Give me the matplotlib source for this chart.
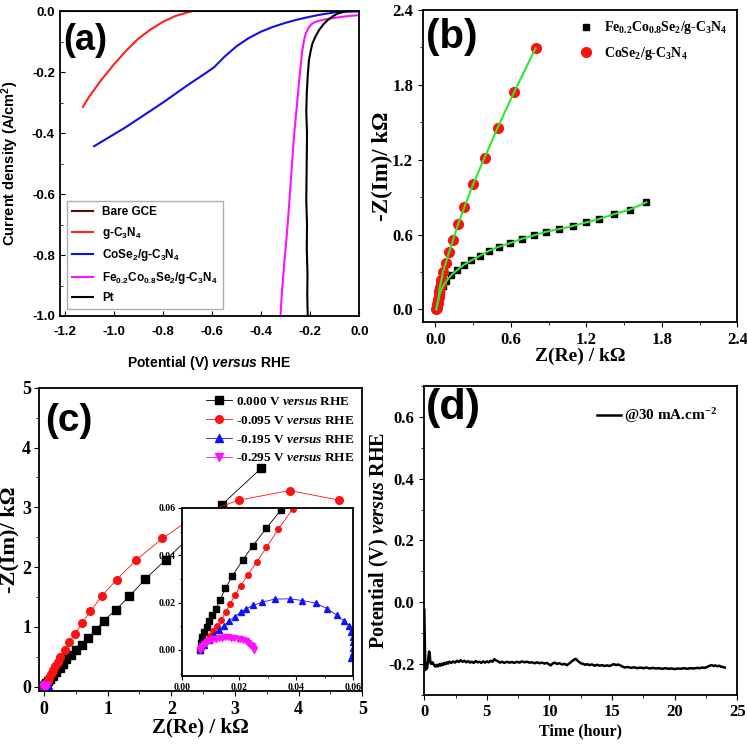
import matplotlib
matplotlib.use("Agg")
import matplotlib.pyplot as plt
from matplotlib.ticker import MultipleLocator, FormatStrFormatter

plt.rcParams['font.family'] = 'Liberation Serif'
plt.rcParams['font.weight'] = 'bold'
plt.rcParams['axes.labelweight'] = 'bold'
plt.rcParams['axes.unicode_minus'] = False
plt.rcParams['mathtext.default'] = 'regular'
plt.rcParams['mathtext.fontset'] = 'custom'
plt.rcParams['mathtext.it'] = 'Liberation Serif:italic:bold'
plt.rcParams['mathtext.sf'] = 'Liberation Sans:italic:bold'

# ---- (a) polarization curves ----
gce_v = [-1.22, 0.0]
gce_j = [0.0, 0.0]

gcn_v = [-1.126, -1.10, -1.05, -1.00, -0.95, -0.90, -0.85, -0.80, -0.75, -0.70, -0.68]
gcn_j = [-0.314, -0.28, -0.225, -0.175, -0.13, -0.09, -0.06, -0.035, -0.016, -0.004, 0.0]

cose_v = [-1.08, -0.95, -0.80, -0.70, -0.62, -0.59, -0.55, -0.50, -0.45, -0.40, -0.35,
          -0.30, -0.25, -0.20, -0.15, -0.10, -0.05, 0.0]
cose_j = [-0.443, -0.380, -0.300, -0.243, -0.200, -0.183, -0.150, -0.115, -0.088, -0.067,
          -0.051, -0.038, -0.027, -0.018, -0.010, -0.004, -0.001, 0.0]

feco_v = [-0.321, -0.315, -0.305, -0.296, -0.288, -0.281, -0.274, -0.267, -0.259, -0.252,
          -0.246, -0.239, -0.232, -0.225, -0.218, -0.205, -0.191, -0.175, -0.157, -0.12,
          -0.075, -0.035, 0.0]
feco_j = [-1.00, -0.92, -0.82, -0.74, -0.66, -0.58, -0.50, -0.42, -0.35, -0.29, -0.237,
          -0.18, -0.128, -0.095, -0.073, -0.052, -0.040, -0.034, -0.030, -0.024, -0.019,
          -0.015, -0.013]

pt_v = [-0.210, -0.212, -0.211, -0.214, -0.213, -0.216, -0.215, -0.214, -0.213, -0.216,
        -0.214, -0.210, -0.205, -0.198, -0.191, -0.178, -0.164, -0.147, -0.130, -0.110,
        -0.089, -0.068, -0.048, 0.0]
pt_j = [-1.00, -0.93, -0.86, -0.78, -0.70, -0.62, -0.55, -0.48, -0.40, -0.33, -0.27,
        -0.21, -0.16, -0.13, -0.106, -0.082, -0.062, -0.044, -0.030, -0.018, -0.008,
        -0.003, 0.0, 0.0]

# ---- (b) Nyquist plots ----
fe_re = [0.008, 0.013, 0.021, 0.029, 0.043, 0.061, 0.088, 0.125, 0.173, 0.226, 0.287, 0.353,
         0.423, 0.502, 0.593, 0.688, 0.784, 0.880, 0.986, 1.092, 1.196, 1.302, 1.422, 1.544, 1.677]
fe_im = [0.0, 0.035, 0.067, 0.107, 0.147, 0.188, 0.228, 0.274, 0.316, 0.357, 0.394, 0.429,
         0.469, 0.501, 0.531, 0.566, 0.593, 0.622, 0.644, 0.668, 0.697, 0.724, 0.764, 0.799, 0.858]
co_re = [0.008, 0.010, 0.013, 0.016, 0.019, 0.022, 0.024, 0.027, 0.029, 0.032, 0.035, 0.041,
         0.048, 0.061, 0.082, 0.109, 0.141, 0.181, 0.231, 0.300, 0.391, 0.494, 0.627, 0.797]
co_im = [0.0, 0.012, 0.025, 0.040, 0.055, 0.068, 0.080, 0.100, 0.126, 0.150, 0.180, 0.205,
         0.233, 0.303, 0.370, 0.459, 0.558, 0.684, 0.821, 1.003, 1.215, 1.453, 1.743, 2.092]

# ---- (c) Nyquist at different potentials ----
v000_re = [0.0061, 0.0064, 0.0070, 0.0077, 0.0085, 0.0095, 0.0103, 0.0118, 0.0133, 0.0151,
           0.0175, 0.0212, 0.0247, 0.0295, 0.0347, 0.06, 0.10, 0.14, 0.19, 0.25, 0.30, 0.35,
           0.42, 0.50, 0.59, 0.69, 0.81, 0.94, 1.13, 1.34, 1.59, 1.91, 2.32, 2.79, 3.41]
v000_im = [0.0, 0.0031, 0.0056, 0.0078, 0.0099, 0.0123, 0.0148, 0.0174, 0.0213, 0.0260,
           0.0311, 0.0380, 0.0440, 0.0514, 0.0593, 0.09, 0.13, 0.18, 0.25, 0.31, 0.38, 0.46,
           0.53, 0.61, 0.70, 0.81, 0.95, 1.10, 1.29, 1.51, 1.80, 2.12, 2.53, 3.04, 3.65]
v095_re = [0.0061, 0.0067, 0.0076, 0.0085, 0.0096, 0.0109, 0.0123, 0.0137, 0.0152, 0.0167,
           0.0185, 0.0205, 0.0230, 0.0261, 0.0295, 0.0337, 0.0388, 0.06, 0.08, 0.11, 0.14,
           0.18, 0.22, 0.26, 0.33, 0.40, 0.49, 0.60, 0.73, 0.91, 1.14, 1.45, 1.86, 2.38,
           3.06, 3.86, 4.64]
v095_im = [0.0, 0.0010, 0.0025, 0.0042, 0.0059, 0.0080, 0.0103, 0.0127, 0.0160, 0.0193,
           0.0233, 0.0272, 0.0318, 0.0371, 0.0433, 0.0511, 0.0597, 0.10, 0.15, 0.21, 0.28,
           0.35, 0.42, 0.50, 0.61, 0.75, 0.88, 1.07, 1.26, 1.52, 1.79, 2.12, 2.48, 2.86,
           3.12, 3.28, 3.12]
v195_re = [0.0061, 0.0076, 0.0093, 0.0111, 0.0128, 0.0146, 0.0163, 0.0184, 0.0205, 0.0225,
           0.0248, 0.0281, 0.0324, 0.0378, 0.0421, 0.0468, 0.0509, 0.0541, 0.0567, 0.0585,
           0.0593, 0.0598, 0.0600, 0.0600, 0.0598, 0.0593]
v195_im = [0.0, 0.0021, 0.0042, 0.0064, 0.0085, 0.0103, 0.0123, 0.0141, 0.0160, 0.0174,
           0.0188, 0.0202, 0.0215, 0.0216, 0.0209, 0.0198, 0.0174, 0.0148, 0.0123, 0.0103,
           0.0078, 0.0056, 0.0035, 0.0007, -0.0014, -0.0033]
v295_re = [0.0061, 0.0064, 0.0069, 0.0075, 0.0082, 0.0090, 0.0099, 0.0108, 0.0118, 0.0128,
           0.0139, 0.0150, 0.0161, 0.0172, 0.0183, 0.0194, 0.0204, 0.0214, 0.0223, 0.0231,
           0.0238, 0.0244, 0.0249, 0.0252]
v295_im = [0.0, 0.0010, 0.0018, 0.0025, 0.0031, 0.0036, 0.0041, 0.0045, 0.0048, 0.0050,
           0.0052, 0.0053, 0.0053, 0.0052, 0.0051, 0.0048, 0.0045, 0.0041, 0.0036, 0.0030,
           0.0023, 0.0015, 0.0007, 0.0001]

# ---- (d) chronopotentiometry ----
time_h = [0.0, 0.04, 0.08, 0.12, 0.16, 0.22, 0.3, 0.38, 0.43, 0.48, 0.55, 0.65, 0.8, 0.9, 1.0,
          1.1, 1.2, 1.3, 1.4, 1.5, 1.6, 1.7, 1.8, 1.9, 2.0, 2.15, 2.3, 2.45, 2.6, 2.75, 2.9,
          3.05, 3.2, 3.35, 3.5, 3.65, 3.8, 3.95, 4.1, 4.25, 4.4, 4.55, 4.7, 4.85, 5.0, 5.15,
          5.3, 5.45, 5.6, 5.75, 5.9, 6.05, 6.2, 6.4, 6.6, 6.8, 7.0, 7.2, 7.4, 7.6, 7.8, 8.0,
          8.2, 8.4, 8.6, 8.8, 9.0, 9.2, 9.4, 9.6, 9.8, 9.95, 10.1, 10.25, 10.4, 10.6, 10.8,
          11.0, 11.2, 11.4, 11.6, 11.75, 11.9, 12.0, 12.1, 12.25, 12.4, 12.55, 12.7, 12.85,
          13.0, 13.2, 13.4, 13.6, 13.8, 14.0, 14.2, 14.4, 14.6, 14.8, 15.0, 15.15, 15.3, 15.5,
          15.7, 15.85, 16.0, 16.25, 16.5, 16.75, 17.0, 17.25, 17.5, 17.75, 18.0, 18.25, 18.5,
          18.75, 19.0, 19.25, 19.5, 19.75, 20.0, 20.25, 20.5, 20.75, 21.0, 21.25, 21.5, 21.75,
          22.0, 22.2, 22.4, 22.6, 22.8, 22.95, 23.1, 23.25, 23.4, 23.55, 23.7, 23.85, 24.0]
potential_v = [-0.025, -0.12, -0.22, -0.20, -0.205, -0.215, -0.19, -0.16, -0.165, -0.195,
               -0.20, -0.195, -0.205, -0.209, -0.203, -0.208, -0.201, -0.206, -0.199, -0.204,
               -0.197, -0.201, -0.195, -0.199, -0.193, -0.197, -0.192, -0.196, -0.190, -0.194,
               -0.188, -0.193, -0.190, -0.195, -0.191, -0.196, -0.193, -0.197, -0.191, -0.195,
               -0.193, -0.197, -0.192, -0.196, -0.192, -0.195, -0.190, -0.193, -0.185, -0.189,
               -0.192, -0.196, -0.193, -0.197, -0.193, -0.196, -0.194, -0.197, -0.193, -0.196,
               -0.192, -0.195, -0.193, -0.196, -0.195, -0.198, -0.195, -0.198, -0.196, -0.199,
               -0.197, -0.201, -0.205, -0.199, -0.196, -0.200, -0.198, -0.202, -0.200, -0.204,
               -0.198, -0.193, -0.188, -0.185, -0.184, -0.190, -0.195, -0.199, -0.200, -0.203,
               -0.201, -0.204, -0.202, -0.206, -0.203, -0.206, -0.204, -0.207, -0.205, -0.207,
               -0.203, -0.201, -0.204, -0.202, -0.206, -0.209, -0.212, -0.210, -0.213, -0.211,
               -0.214, -0.212, -0.214, -0.212, -0.215, -0.213, -0.215, -0.214, -0.216, -0.214,
               -0.216, -0.215, -0.217, -0.215, -0.216, -0.214, -0.216, -0.214, -0.215, -0.213,
               -0.214, -0.212, -0.213, -0.210, -0.206, -0.204, -0.207, -0.205, -0.208, -0.206,
               -0.209, -0.210, -0.212]

green = '#2ee82e'
sans = 'Liberation Sans'

fig = plt.figure(figsize=(7.47, 7.47), dpi=100)

# panel (a)
ax1 = fig.add_axes([0.080, 0.577, 0.401, 0.408])
ax1.plot(gce_v, gce_j, color='#5a0a0a', lw=1.5, label='Bare GCE')
ax1.plot(gcn_v, gcn_j, color='#ff2020', lw=1.5, label='g-C$_3$N$_4$')
ax1.plot(cose_v, cose_j, color='#1010ee', lw=1.5, label='CoSe$_2$/g-C$_3$N$_4$')
ax1.plot(feco_v, feco_j, color='#ff10ff', lw=1.5, label='Fe$_{0.2}$Co$_{0.8}$Se$_2$/g-C$_3$N$_4$')
ax1.plot(pt_v, pt_j, color='black', lw=1.5, label='Pt')
ax1.set_xlim(-1.22, 0.0)
ax1.set_ylim(-1.0, 0.0)
ax1.xaxis.set_major_locator(MultipleLocator(0.2))
ax1.yaxis.set_major_locator(MultipleLocator(0.2))
ax1.yaxis.set_minor_locator(MultipleLocator(0.1))
ax1.xaxis.set_major_formatter(FormatStrFormatter('%.1f'))
ax1.yaxis.set_major_formatter(FormatStrFormatter('%.1f'))
ax1.tick_params(direction='in', labelsize=9.5, labelfontfamily=sans)
ax1.tick_params(axis='x', pad=7)
ax1.tick_params(which='minor', direction='in', length=2)
ax1.set_xlabel(r'Potential (V) $\mathsf{versus}$ RHE', family=sans, fontsize=10)
ax1.xaxis.set_label_coords(0.5, -0.125)
ax1.set_ylabel('Current density (A/cm$^2$)', family=sans, fontsize=10.5)
ax1.yaxis.set_label_coords(-0.128, 0.5)
ax1.text(0.01, 0.96, '(a)', transform=ax1.transAxes, ha='left', va='top',
         family=sans, fontsize=26, fontweight='bold')
ax1.legend(loc='lower left', bbox_to_anchor=(0.0, 0.0), fancybox=False, edgecolor='#999999',
           prop={'family': sans, 'weight': 'bold', 'size': 8.5}, handlelength=1.8,
           borderaxespad=0.6, labelspacing=0.55)

# panel (b)
ax2 = fig.add_axes([0.566, 0.569, 0.421, 0.418])
ax2.plot(fe_re, fe_im, 's', color='black', ms=4.5, label='Fe$_{0.2}$Co$_{0.8}$Se$_2$/g-C$_3$N$_4$')
ax2.plot(co_re, co_im, 'o', color='#ff1010', ms=7, label='CoSe$_2$/g-C$_3$N$_4$')
ax2.plot(fe_re, fe_im, '-', color=green, lw=1.5)
ax2.plot(co_re, co_im, '-', color=green, lw=1.5)
ax2.set_xlim(-0.1, 2.4)
ax2.set_ylim(-0.1, 2.4)
ax2.xaxis.set_major_locator(MultipleLocator(0.6))
ax2.yaxis.set_major_locator(MultipleLocator(0.6))
ax2.xaxis.set_minor_locator(MultipleLocator(0.3))
ax2.yaxis.set_minor_locator(MultipleLocator(0.3))
ax2.tick_params(labelsize=12)
ax2.set_xlabel('Z(Re) / kΩ', fontsize=14, labelpad=0)
ax2.set_ylabel('-Z(Im)/ kΩ', fontsize=16.5)
ax2.yaxis.set_label_coords(-0.095, 0.5)
ax2.text(0.01, 0.975, '(b)', transform=ax2.transAxes, ha='left', va='top',
         family=sans, fontsize=29, fontweight='bold')
ax2.legend(loc='upper right', frameon=False, fontsize=10, handletextpad=0.3,
           borderaxespad=0.3, labelspacing=0.6)

# panel (c)
ax3 = fig.add_axes([0.052, 0.075, 0.433, 0.406])
series_c = [
    (v000_re, v000_im, 's', 'black', '0.000 V'),
    (v095_re, v095_im, 'o', '#ff1010', '-0.095 V'),
    (v195_re, v195_im, '^', '#1010ff', '-0.195 V'),
    (v295_re, v295_im, 'v', '#ff10ff', '-0.295 V'),
]
for xs, ys, mk, col, lab in series_c:
    ax3.plot(xs, ys, '-', marker=mk, color=col, lw=0.6, ms=5.5,
             label=lab + r' $\mathit{versus}$ RHE')
ax3.set_xlim(-0.08, 5.0)
ax3.set_ylim(-0.07, 5.0)
ax3.xaxis.set_major_locator(MultipleLocator(1))
ax3.yaxis.set_major_locator(MultipleLocator(1))
ax3.xaxis.set_minor_locator(MultipleLocator(0.5))
ax3.yaxis.set_minor_locator(MultipleLocator(0.5))
ax3.tick_params(labelsize=13)
ax3.tick_params(axis='y', pad=2)
ax3.set_xlabel('Z(Re) / kΩ', fontsize=15, labelpad=0)
ax3.set_ylabel('-Z(Im)/ kΩ', fontsize=16)
ax3.yaxis.set_label_coords(-0.06, 0.5)
ax3.text(0.02, 0.95, '(c)', transform=ax3.transAxes, ha='left', va='top',
         family=sans, fontsize=28, fontweight='bold')
ax3.legend(loc='upper right', frameon=False, fontsize=9.5, handlelength=2.0,
           handletextpad=0.3, borderaxespad=0.2, labelspacing=0.5)

# inset of (c)
axin = fig.add_axes([0.244, 0.095, 0.229, 0.225])
for xs, ys, mk, col, lab in series_c:
    axin.plot(xs, ys, '-', marker=mk, color=col, lw=0.6, ms=4)
axin.set_xlim(0.0, 0.06)
axin.set_ylim(-0.011, 0.06)
axin.xaxis.set_major_locator(MultipleLocator(0.02))
axin.yaxis.set_major_locator(MultipleLocator(0.02))
axin.xaxis.set_minor_locator(MultipleLocator(0.01))
axin.yaxis.set_minor_locator(MultipleLocator(0.01))
axin.xaxis.set_major_formatter(FormatStrFormatter('%.2f'))
axin.yaxis.set_major_formatter(FormatStrFormatter('%.2f'))
axin.tick_params(labelsize=7, length=3, pad=2)
axin.tick_params(which='minor', length=1.5)

# panel (d)
ax4 = fig.add_axes([0.568, 0.070, 0.419, 0.413])
ax4.plot(time_h, potential_v, color='black', lw=1.8, label='@30 mA.cm$^{-2}$')
ax4.set_xlim(0, 25)
ax4.set_ylim(-0.3, 0.7)
ax4.xaxis.set_major_locator(MultipleLocator(5))
ax4.xaxis.set_minor_locator(MultipleLocator(2.5))
ax4.yaxis.set_major_locator(MultipleLocator(0.2))
ax4.yaxis.set_minor_locator(MultipleLocator(0.1))
ax4.yaxis.set_major_formatter(FormatStrFormatter('%.1f'))
ax4.tick_params(labelsize=12)
ax4.set_xlabel('Time (hour)', fontsize=11.5, labelpad=2)
ax4.set_ylabel(r'Potential (V) $\mathit{versus}$ RHE', fontsize=14.5)
ax4.yaxis.set_label_coords(-0.105, 0.5)
ax4.text(0.005, 0.995, '(d)', transform=ax4.transAxes, ha='left', va='top',
         family=sans, fontsize=31, fontweight='bold')
ax4.legend(loc='upper right', frameon=False, fontsize=11, handlelength=1.6,
           handletextpad=0.2, borderaxespad=0.9)

for ax in (ax1, ax2, ax3, ax4, axin):
    for sp in ax.spines.values():
        sp.set_linewidth(1.3)

fig.savefig('out.png', dpi=100)
